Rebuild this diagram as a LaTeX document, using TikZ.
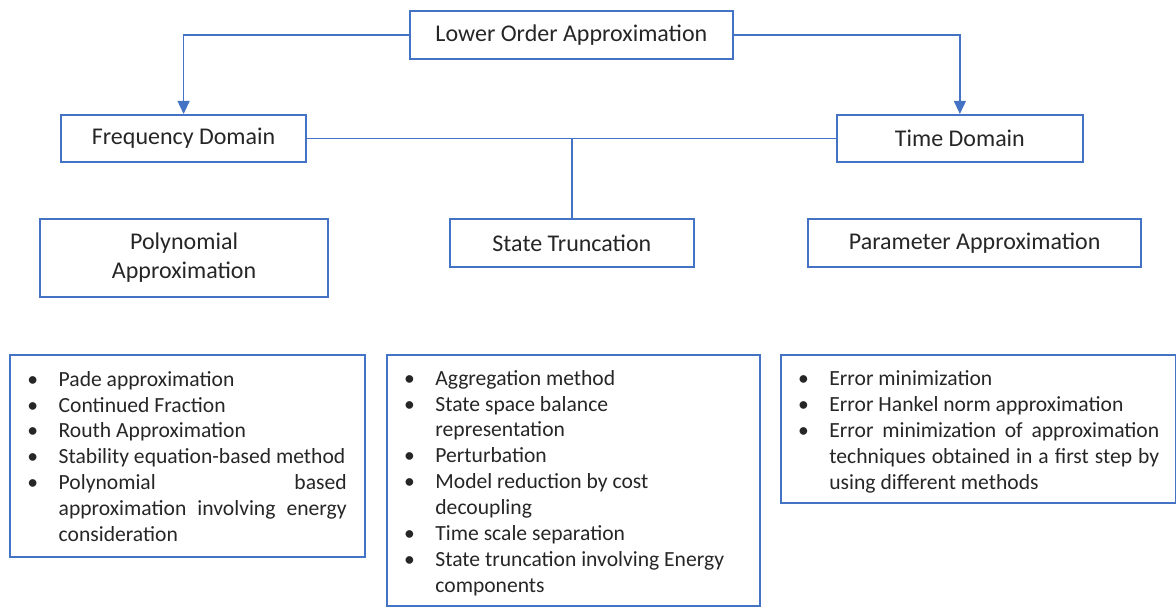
\documentclass[tikz,border=0pt]{standalone}
\usepackage{fontspec}
\setmainfont{Carlito}
\usepackage{enumitem}
\usetikzlibrary{arrows.meta}
\definecolor{boxblue}{HTML}{4472C4}
\definecolor{txtgray}{HTML}{262626}
\newcommand{\boxfont}{\fontsize{24}{29}\selectfont}
\newcommand{\listfont}{\fontsize{21.6}{25.9}\selectfont}
\setlist[itemize]{label=\makebox[0pt][c]{\textbullet},labelwidth=0pt,labelsep=26pt,leftmargin=34.4pt,topsep=0pt,partopsep=0pt,itemsep=0pt,parsep=0pt}

\begin{document}
\begin{tikzpicture}[x=1pt,y=-1pt,
    titlebox/.style={draw=boxblue,line width=2pt,text=txtgray,font=\boxfont,align=center,inner sep=0pt},
    listbox/.style={draw=boxblue,line width=2pt,text=txtgray,font=\listfont,align=justify,inner xsep=14pt,inner ysep=2pt,anchor=north west},
    conn/.style={draw=boxblue,line width=1.2pt},
    arrowtip/.style={-{Triangle[width=12pt,length=13pt]}}]
    \useasboundingbox (0,0) rectangle (1176,606);
    % 顶层与两个域
    \node[titlebox,minimum width=323.7pt,minimum height=47.7pt] (lower) at (571.4,35) {Lower Order Approximation};
    \node[titlebox,minimum width=244.8pt,minimum height=46.7pt] (freq) at (183.6,138.3) {Frequency Domain};
    \node[titlebox,minimum width=245.2pt,minimum height=46.7pt] (time) at (959.9,138.3) {Time Domain};
    % 三类方法
    \node[titlebox,minimum width=288.6pt,minimum height=77.7pt] (poly) at (184.1,257.8) {Polynomial\\Approximation};
    \node[titlebox,minimum width=244.3pt,minimum height=47.7pt] (state) at (571.9,242.8) {State Truncation};
    \node[titlebox,minimum width=333.4pt,minimum height=47.7pt] (param) at (974.7,242.8) {Parameter Approximation};
    % 连线
    \draw[conn,arrowtip] (lower.west) -| (freq.north);
    \draw[conn,arrowtip] (lower.east) -| (time.north);
    \draw[conn] (freq.east) -- (time.west);
    \draw[conn] (state.north |- freq.east) -- (state.north);
    % 方法列表
    \node[listbox,minimum height=202pt,text width=326.7pt] (polylist) at (9.3,354) {%
      \begin{itemize}[rightmargin=4.3pt]
        \item Pade approximation
        \item Continued Fraction
        \item Routh Approximation
        \item Stability equation-based method
        \item \makebox[\linewidth][s]{Polynomial based}\\
              \makebox[\linewidth][s]{approximation involving energy}\\
              consideration
      \end{itemize}\vspace{10pt}};
    \node[listbox,minimum height=251pt,text width=345pt] (statelist) at (386,354) {%
      \begin{itemize}
        \item Aggregation method
        \item State space balance\\representation
        \item Perturbation
        \item Model reduction by cost\\decoupling
        \item Time scale separation
        \item State truncation involving Energy\\components
      \end{itemize}\vspace{6pt}};
    \node[listbox,minimum height=148.3pt,text width=367pt] (paramlist) at (780,354) {%
      \begin{itemize}[rightmargin=2.7pt]
        \item Error minimization
        \item Error Hankel norm approximation
        \item \makebox[\linewidth][s]{Error minimization of approximation}\\
              \makebox[\linewidth][s]{techniques obtained in a first step by}\\
              using different methods
      \end{itemize}\vspace{6pt}};
\end{tikzpicture}
\end{document}
